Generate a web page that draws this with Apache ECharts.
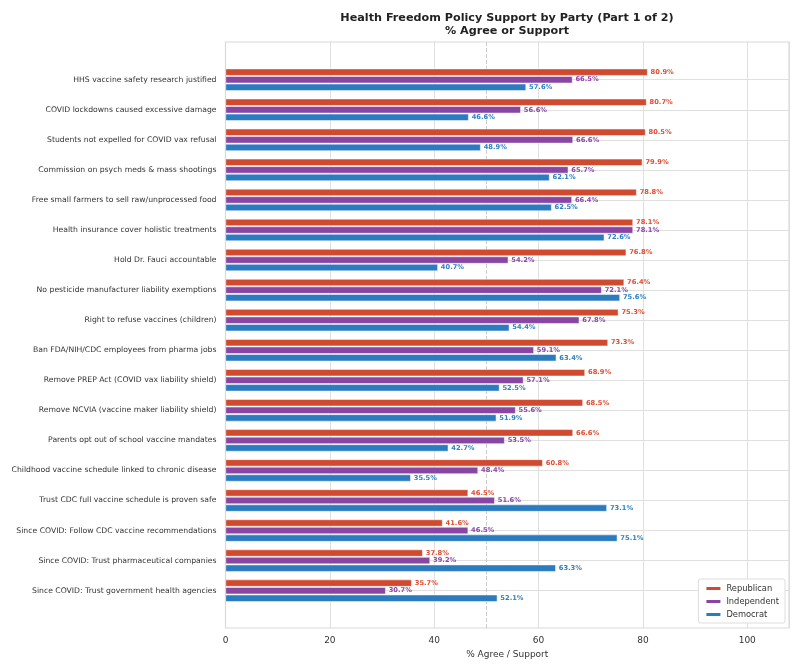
<!DOCTYPE html>
<html>
<head>
<meta charset="utf-8">
<script src="https://cdn.jsdelivr.net/npm/echarts@6/dist/echarts.min.js"></script>
<style>html,body{margin:0;padding:0;background:#fff}#c{width:800px;height:669px}</style>
</head>
<body>
<div id="c"></div>
<script>
const categories = [
  "HHS vaccine safety research justified",
  "COVID lockdowns caused excessive damage",
  "Students not expelled for COVID vax refusal",
  "Commission on psych meds & mass shootings",
  "Free small farmers to sell raw/unprocessed food",
  "Health insurance cover holistic treatments",
  "Hold Dr. Fauci accountable",
  "No pesticide manufacturer liability exemptions",
  "Right to refuse vaccines (children)",
  "Ban FDA/NIH/CDC employees from pharma jobs",
  "Remove PREP Act (COVID vax liability shield)",
  "Remove NCVIA (vaccine maker liability shield)",
  "Parents opt out of school vaccine mandates",
  "Childhood vaccine schedule linked to chronic disease",
  "Trust CDC full vaccine schedule is proven safe",
  "Since COVID: Follow CDC vaccine recommendations",
  "Since COVID: Trust pharmaceutical companies",
  "Since COVID: Trust government health agencies"
];
const republican = [80.9, 80.7, 80.5, 79.9, 78.8, 78.1, 76.8, 76.4, 75.3, 73.3, 68.9, 68.5, 66.6, 60.8, 46.5, 41.6, 37.8, 35.7];
const independent = [66.5, 56.6, 66.6, 65.7, 66.4, 78.1, 54.2, 72.1, 67.8, 59.1, 57.1, 55.6, 53.5, 48.4, 51.6, 46.5, 39.2, 30.7];
const democrat = [57.6, 46.6, 48.9, 62.1, 62.5, 72.6, 40.7, 75.6, 54.4, 63.4, 52.5, 51.9, 42.7, 35.5, 73.1, 75.1, 63.3, 52.1];
const xTicks = [0, 20, 40, 60, 80, 100];

const seriesDefs = [
  {name: "Republican", data: republican, color: "#d04a30", label: "#e04b30"},
  {name: "Independent", data: independent, color: "#8845a2", label: "#8e44ad"},
  {name: "Democrat", data: democrat, color: "#2a7bbf", label: "#2a80c4"}
];

const chart = echarts.init(document.getElementById('c'), null, {renderer: 'canvas'});
const FONT = "DejaVu Sans";

const barSeries = seriesDefs.map(s => ({
  name: s.name,
  type: 'bar',
  xAxisIndex: 1,
  yAxisIndex: 1,
  data: s.data,
  barWidth: 7,
  barGap: '8%',
  itemStyle: {color: s.color, borderColor: '#ffffff', borderWidth: 0.5},
  label: {
    show: true,
    position: 'right',
    distance: 3,
    fontFamily: FONT,
    fontSize: 6.7,
    fontWeight: 'bold',
    color: s.label,
    formatter: p => p.value.toFixed(1) + '%'
  },
  z: 10
}));

chart.setOption({
  animation: false,
  backgroundColor: '#ffffff',
  title: {
    text: 'Health Freedom Policy Support by Party (Part 1 of 2)\n% Agree or Support',
    left: 502,
    textAlign: 'center',
    top: 7,
    textStyle: {fontFamily: FONT, fontSize: 11.2, fontWeight: 'bold', color: '#222', lineHeight: 12.5}
  },
  legend: {
    orient: 'vertical',
    right: 15,
    bottom: 46,
    itemWidth: 16,
    itemHeight: 5,
    itemGap: 4,
    padding: [5, 6, 4, 6],
    backgroundColor: '#ffffff',
    borderColor: '#dddddd',
    borderWidth: 1,
    borderRadius: 2,
    textStyle: {fontFamily: FONT, fontSize: 8.3, color: '#333', lineHeight: 9},
    data: seriesDefs.map(s => ({name: s.name, icon: 'rect'}))
  },
  grid: [
    {left: 225.5, right: 11, top: 42, bottom: 41, show: true, borderColor: '#dadada', borderWidth: 1.2, backgroundColor: 'transparent', z: 1},
    {left: 225.5, right: 11, top: 64.7, bottom: 63.3}
  ],
  xAxis: [
    {
      gridIndex: 0, type: 'value', min: 0, max: 108, interval: 20,
      name: '% Agree / Support', nameLocation: 'middle', nameGap: 21,
      nameTextStyle: {fontFamily: FONT, fontSize: 9, color: '#333'},
      axisLine: {show: false}, axisTick: {show: false},
      axisLabel: {
        fontFamily: FONT, fontSize: 9, color: '#333', margin: 8,
        showMaxLabel: false,
        formatter: v => xTicks.indexOf(v) >= 0 ? String(v) : ''
      },
      splitLine: {show: true, lineStyle: {color: '#e0e0e0', width: 1}}
    },
    {
      gridIndex: 1, type: 'value', min: 0, max: 108, show: false
    }
  ],
  yAxis: [
    {gridIndex: 0, type: 'value', min: 0, max: 1, show: false},
    {
      gridIndex: 1, type: 'category', data: categories, inverse: true,
      axisLine: {show: false}, axisTick: {show: false},
      axisLabel: {fontFamily: FONT, fontSize: 7.7, color: '#333', margin: 9},
      splitLine: {show: true, alignWithLabel: true, lineStyle: {color: '#e0e0e0', width: 1}}
    }
  ],
  series: [
    {
      type: 'scatter', xAxisIndex: 0, yAxisIndex: 0, data: [[50, 0.5]], symbolSize: 0, silent: true,
      markLine: {
        silent: true, symbol: 'none', label: {show: false}, z: 1,
        lineStyle: {type: 'dashed', color: '#cccccc', width: 1},
        data: [{xAxis: 50}]
      }, z: 1
    }
  ].concat(barSeries)
});
</script>
</body>
</html>
